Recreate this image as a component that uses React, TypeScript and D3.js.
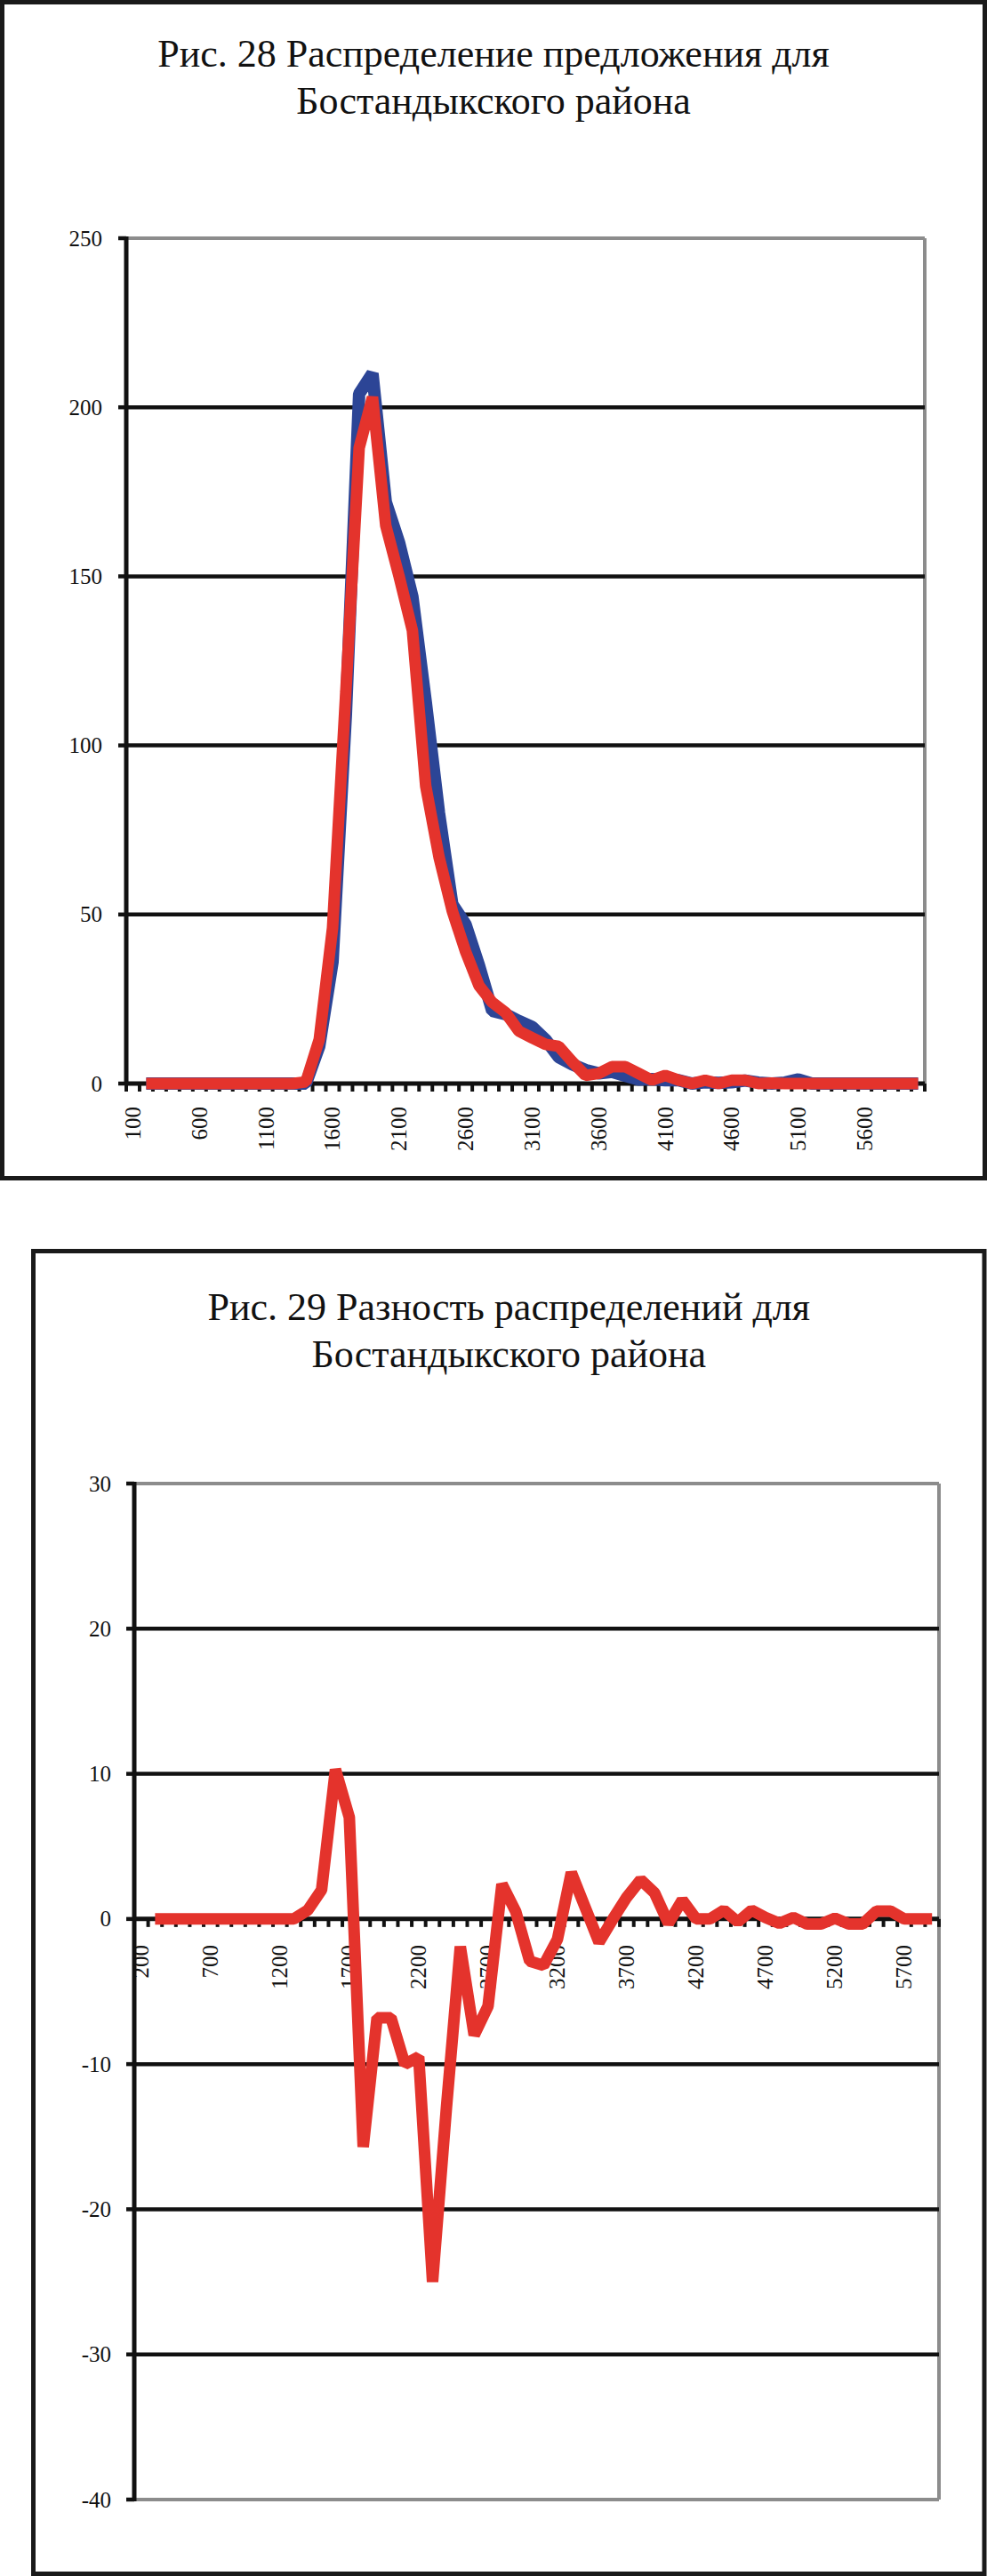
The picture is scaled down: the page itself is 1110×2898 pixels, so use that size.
import * as d3 from 'd3';

// ---- Рис. 28: categories 100..6000, two series (first category empty)
const cats28 = [
  100, 200, 300, 400, 500, 600, 700, 800, 900, 1000,
  1100, 1200, 1300, 1400, 1500, 1600, 1700, 1800, 1900, 2000,
  2100, 2200, 2300, 2400, 2500, 2600, 2700, 2800, 2900, 3000,
  3100, 3200, 3300, 3400, 3500, 3600, 3700, 3800, 3900, 4000,
  4100, 4200, 4300, 4400, 4500, 4600, 4700, 4800, 4900, 5000,
  5100, 5200, 5300, 5400, 5500, 5600, 5700, 5800, 5900, 6000,
];
const labels28 = [100, 600, 1100, 1600, 2100, 2600, 3100, 3600, 4100, 4600, 5100, 5600];
const yTicks28 = [0, 50, 100, 150, 200, 250];
const blue28 = [
  null, 0, 0, 0, 0, 0, 0, 0, 0, 0,
  0, 0, 0, 0, 11, 36, 109, 204, 210, 172,
  160, 144, 113, 80, 53, 47, 35, 21.5, 20.5, 18.5,
  16.7, 13, 7.8, 5.7, 4, 3, 3.5, 2.3, 1.2, 1.3,
  1, 1, 0, 0.4, 0.2, 0.4, 0.9, 0.3, 0, 0.3,
  1.2, 0, 0, 0, 0, 0, 0, 0, 0, 0,
];
const red28 = [
  null, 0, 0, 0, 0, 0, 0, 0, 0, 0,
  0, 0, 0, 0.5, 13, 46, 116, 188, 203, 165,
  150, 134, 88, 67, 51, 39, 29, 24, 21, 15.5,
  13.5, 11.6, 11, 6.5, 2.4, 3, 5, 5, 3, 1,
  2.4, 1, 0, 1, 0, 1, 1, 0, 0.1, 0,
  0, 0, 0, 0, 0, 0, 0, 0, 0, 0,
];

// ---- Рис. 29: categories 200..5900, difference (first category empty)
const cats29 = [
  200, 300, 400, 500, 600, 700, 800, 900, 1000, 1100,
  1200, 1300, 1400, 1500, 1600, 1700, 1800, 1900, 2000, 2100,
  2200, 2300, 2400, 2500, 2600, 2700, 2800, 2900, 3000, 3100,
  3200, 3300, 3400, 3500, 3600, 3700, 3800, 3900, 4000, 4100,
  4200, 4300, 4400, 4500, 4600, 4700, 4800, 4900, 5000, 5100,
  5200, 5300, 5400, 5500, 5600, 5700, 5800, 5900,
];
const labels29 = [200, 700, 1200, 1700, 2200, 2700, 3200, 3700, 4200, 4700, 5200, 5700];
const yTicks29 = [30, 20, 10, 0, -10, -20, -30, -40];
const diff29 = [
  null, 0, 0, 0, 0, 0, 0, 0, 0, 0,
  0, 0, 0.6, 2, 10.3, 7, -15.7, -6.8, -6.8, -10,
  -9.5, -25, -13, -1.9, -8, -6, 2.4, 0.5, -2.9, -3.2,
  -1.4, 3.2, 0.8, -1.6, 0, 1.5, 2.7, 1.8, -0.3, 1.3,
  0, 0, 0.6, -0.2, 0.6, 0.1, -0.3, 0.1, -0.35, -0.35,
  0.05, -0.35, -0.35, 0.55, 0.55, 0, 0, 0,
];

const FONT = '"Liberation Serif", "Times New Roman", serif';
const RED = '#e4332c';
const BLUE = '#2c4596';
const GRAY = '#8c8c8c';

type Series = { values: (number | null)[]; color: string; width: number };

const Panel = ({ frame, title, titleY, plot, cats, labelCats, yTicks, series, mask, yLabelX, xLabelY }) => {
  const x = d3.scaleBand<number>().domain(cats).range([plot.left, plot.right]);
  const cx = (c: number) => (x(c) as number) + x.bandwidth() / 2;
  const y = d3
    .scaleLinear()
    .domain([d3.min(yTicks) as number, d3.max(yTicks) as number])
    .range([plot.bottom, plot.top]);
  const y0 = y(0);

  const line = d3
    .line<number | null>()
    .defined((v) => v != null)
    .x((_, i) => cx(cats[i]))
    .y((v) => y(v as number));

  // white area under the curve hides the gridlines inside the peak, as in the scan
  const area = d3
    .area<number | null>()
    .defined((v) => v != null)
    .x((_, i) => cx(cats[i]))
    .y0(y0)
    .y1((v) => y(v as number));

  const grid = yTicks.filter((t) => t !== 0 && t !== d3.max(yTicks) && t !== d3.min(yTicks));
  const boundaries = [...cats.map((c) => x(c) as number), plot.right];
  const midX = frame.x + frame.w / 2;

  return (
    <g>
      <rect x={frame.x} y={frame.y} width={frame.w} height={frame.h} fill="#fff" stroke="#1a1a1a" strokeWidth={5} />
      {title.map((t, i) => (
        <text key={i} x={midX} y={titleY + i * 53} textAnchor="middle" fontFamily={FONT} fontSize={44} fill="#111">
          {t}
        </text>
      ))}

      {/* plot border: top, right, bottom (gray) */}
      <line x1={plot.left} x2={plot.right} y1={plot.top} y2={plot.top} stroke={GRAY} strokeWidth={4} />
      <line x1={plot.right} x2={plot.right} y1={plot.top} y2={plot.bottom} stroke={GRAY} strokeWidth={4} />
      <line x1={plot.left} x2={plot.right} y1={plot.bottom} y2={plot.bottom} stroke={GRAY} strokeWidth={4} />

      {grid.map((t) => (
        <line key={t} x1={plot.left} x2={plot.right} y1={y(t)} y2={y(t)} stroke="#111" strokeWidth={4.5} />
      ))}

      {mask && <path d={area(mask) as string} fill="#fff" />}

      {yTicks.map((t) => (
        <g key={t}>
          <line x1={plot.left - 9} x2={plot.left} y1={y(t)} y2={y(t)} stroke="#111" strokeWidth={4.5} />
          <text x={yLabelX} y={y(t)} dy="0.34em" textAnchor="end" fontFamily={FONT} fontSize={25} fill="#111">
            {t}
          </text>
        </g>
      ))}

      {labelCats.map((c) => (
        <text
          key={c}
          transform={`translate(${cx(c)},${xLabelY}) rotate(-90)`}
          dy="0.34em"
          textAnchor="end"
          fontFamily={FONT}
          fontSize={25}
          fill="#111"
        >
          {c}
        </text>
      ))}

      {boundaries.map((bx, i) => (
        <line key={i} x1={bx} x2={bx} y1={y0} y2={y0 + 9} stroke="#111" strokeWidth={4} />
      ))}

      <line x1={plot.left} x2={plot.right} y1={y0} y2={y0} stroke="#111" strokeWidth={5} />
      <line x1={plot.left} x2={plot.left} y1={plot.top - 2} y2={plot.bottom + 2} stroke="#111" strokeWidth={5} />

      {series.map((s: Series, i: number) => (
        <path key={i} d={line(s.values) as string} fill="none" stroke={s.color} strokeWidth={s.width} strokeLinejoin="bevel" />
      ))}
    </g>
  );
};

const App = () => {
  return (
    <svg
      width={1110}
      height={2898}
      viewBox="0 0 1110 2898"
      style={{ position: 'absolute', left: 0, top: 0, background: '#fff' }}
    >
      <Panel
        frame={{ x: 2.5, y: 2.5, w: 1105, h: 1323 }}
        title={['Рис. 28 Распределение предложения для', 'Бостандыкского района']}
        titleY={75}
        plot={{ left: 142, right: 1040, top: 268, bottom: 1219 }}
        cats={cats28}
        labelCats={labels28}
        yTicks={yTicks28}
        series={[
          { values: blue28, color: BLUE, width: 14 },
          { values: red28, color: RED, width: 13 },
        ]}
        mask={red28}
        yLabelX={115}
        xLabelY={1245}
      />
      <Panel
        frame={{ x: 37.5, y: 1407.5, w: 1069.5, h: 1488 }}
        title={['Рис. 29 Разность распределений для', 'Бостандыкского района']}
        titleY={1485}
        plot={{ left: 151, right: 1056, top: 1669, bottom: 2812 }}
        cats={cats29}
        labelCats={labels29}
        yTicks={yTicks29}
        series={[{ values: diff29, color: RED, width: 13 }]}
        mask={null}
        yLabelX={125}
        xLabelY={2188}
      />
    </svg>
  );
};

export default App;
